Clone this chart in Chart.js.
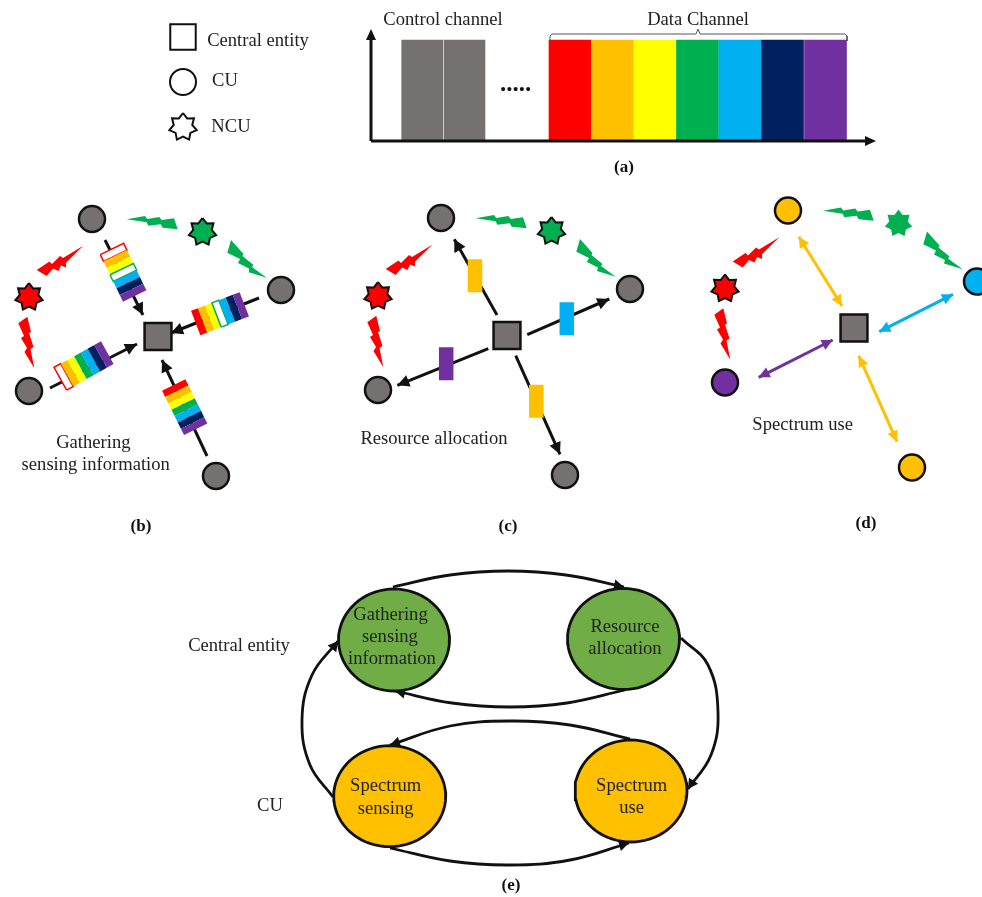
<!DOCTYPE html>
<html>
<head>
<meta charset="utf-8">
<title>Spectrum sharing cycle</title>
<script src="https://cdn.jsdelivr.net/npm/chart.js@4/dist/chart.umd.min.js"></script>
<style>
  html, body { margin: 0; padding: 0; background: #fff; }
  canvas { display: block; }
</style>
</head>
<body>
<canvas id="chartCanvas" width="982" height="897"></canvas>
<script>
// --- Colours ---
const GRAY = '#767171', RED = '#ff0000', ORANGE = '#ffc000', YELLOW = '#ffff00';
const GREEN = '#00b050', BLUE = '#00b0f0', NAVY = '#002060', PURPLE = '#7030a0';
const INK = '#111111';
const LEAF = '#70ad47';

// --- Panel (a): channels ---
const controlCenters = [422.2, 464.5];
const dataCenters = [570, 612.5, 655, 697.5, 740, 782.5, 825.5];
const channelColors = [RED, ORANGE, YELLOW, GREEN, BLUE, NAVY, PURPLE];
const channelTop = 40, channelBottom = 141;
const braceLine = [[550, 41], [550, 36], [552, 34], [696, 34], [698, 29], [700, 34], [845, 34], [847, 36], [847, 41]];

// --- Panels (b)(c)(d): network layout, given for panel (b) ---
const nodeB = [[92, 219], [281, 290], [29, 391], [216, 476]];
const hubB = [158, 336.5];
const starB = [[29, 297], [202.5, 232]];
const panelShiftC = [349, -1];
const panelShiftD = [696, -8.5];
const nodeColorsD = [ORANGE, BLUE, PURPLE, ORANGE];

const boltRedTop = [[36.7, 270], [49.5, 261.5], [52, 264], [60, 256], [63, 258], [83.3, 245.7], [66, 262.7], [66, 267.5], [61, 265.5], [58.5, 271], [53, 268.5], [46.7, 276]];
const boltRedLow = [[18.3, 323.3], [27.3, 316.7], [31, 332], [29, 333], [33.5, 347], [30.5, 349], [34.3, 368.3], [24.5, 352], [27, 348], [21, 338], [24, 336]];
const boltGreenTop = [[126.7, 219.3], [145, 216], [147.3, 219], [159.3, 217], [161.7, 220], [174, 218.3], [177.7, 229.3], [162.7, 227.7], [160.7, 224.3], [148.3, 225.7], [146.7, 222.3]];
const boltGreenRight = [[231, 240], [243.5, 254], [242.5, 256], [253.5, 265], [252, 267], [266.7, 277.7], [248, 272], [249, 268.5], [238, 263], [240, 259], [227.3, 252.7]];

// (b) sensing report arrows and the spectrum strips sitting on them
const arrowsB = [[[105, 240], [143, 315]], [[259, 298], [171, 333]], [[50, 388], [137, 344]], [[207, 456], [162, 360]]];
const stripsB = [[[112, 249], [134.7, 296]], [[195.7, 323], [244.3, 304.3]], [[60.3, 378.7], [107.3, 352.7]], [[173.7, 385], [195.7, 429.3]]];
const stripHollow = [[0, 3], [3], [0], []];

// (c) resource allocation
const arrowsC = [[[497, 315], [454.3, 239.3]], [[527.3, 334.7], [609.3, 299]], [[488.3, 348.7], [397.3, 385.3]], [[515.7, 355.7], [560, 454.3]]];
const allocX = [475, 566.8, 446.2, 536.3];
const allocY = [275.7, 318.8, 363.8, 401.2];
const allocColors = [ORANGE, BLUE, PURPLE, ORANGE];
const allocW = 14.5, allocH = 33;

// (d) spectrum use
const arrowsD = [[[798.7, 236.7], [842, 306]], [[879.3, 331.7], [953, 294.3]], [[758.7, 377.3], [832.7, 340]], [[858.7, 355.7], [897, 441.7]]];
const arrowColorsD = [ORANGE, BLUE, PURPLE, ORANGE];

// --- Panel (e): cycle ---
const cycleX = [394, 623.5, 389.7, 631];
const cycleY = [640, 639, 796.2, 791];
const cycleRx = [55.5, 56, 56, 56];
const cycleRy = [51, 50.5, 50.5, 51];
const cycleColors = [LEAF, LEAF, ORANGE, ORANGE];
const curveGatherToResource = [[393, 587], [450, 575], [508, 571], [566, 575], [624, 587]];
const curveResourceToGather = [[625, 690], [567, 703], [510, 707], [452, 703], [395, 691]];
const curveUseToSensing = [[630, 739], [570, 725], [510, 721], [450, 726], [390, 745]];
const curveSensingToGather = [[333, 797], [310, 765], [302, 720], [312, 675], [338, 641]];
const curveResourceToUse = [[681, 638], [708, 665], [718, 712], [711, 755], [688, 789]];
const curveSensingToUse = [[390, 848], [450, 861], [510, 865], [570, 860], [629, 843]];

// --- Text ---
const serifText = ['Control channel', 'Data Channel', 'Central entity', 'CU', 'NCU',
  'Gathering', 'sensing information', 'Resource allocation', 'Spectrum use',
  'Gathering', 'sensing', 'information', 'Resource', 'allocation', 'Spectrum', 'sensing', 'Spectrum', 'use',
  'Central entity', 'CU'];
const serifX = [443, 698, 258, 225, 231, 93.3, 95.7, 434, 802.7, 390.5, 390, 392, 625, 625, 385.7, 385.7, 631.7, 631.7, 239, 270];
const serifY = [20, 20, 41, 81, 127, 443, 465, 439.5, 425.5, 615, 637, 659, 626.7, 649, 786, 809, 785.7, 808, 646, 806];
const boldText = ['(a)', '(b)', '(c)', '(d)', '(e)'];
const boldX = [624, 141, 508, 866, 511];
const boldY = [168, 527, 527, 524, 886];
const gapDots = '.....';
const gapDotsX = 515.5, gapDotsY = 85;

// --- Dataset builders ---
const toXY = pts => pts.map(p => ({ x: p[0], y: p[1] }));
const shift = (pts, d) => pts.map(p => [p[0] + d[0], p[1] + d[1]]);

function polygon(pts, fillColor, borderColor, borderWidth) {
    return {
        type: 'scatter',
        data: toXY(pts.concat([pts[0]])),
        showLine: true,
        pointRadius: 0,
        fill: 'shape',
        backgroundColor: fillColor,
        borderColor: borderColor || fillColor,
        borderWidth: borderWidth || 0,
        borderJoinStyle: 'miter',
        tension: 0
    };
}

function stroke(pts, color, width, tension) {
    return {
        type: 'scatter',
        data: toXY(pts),
        showLine: true,
        pointRadius: 0,
        fill: false,
        borderColor: color,
        borderWidth: width,
        tension: tension || 0
    };
}

// triangle with its point at tip, pointing away from "from"
function arrowHead(tip, from, color, len, wid) {
    const dx = tip[0] - from[0], dy = tip[1] - from[1];
    const d = Math.hypot(dx, dy);
    const ux = dx / d, uy = dy / d;
    const bx = tip[0] - ux * len, by = tip[1] - uy * len;
    return polygon([tip, [bx - uy * wid, by + ux * wid], [bx + uy * wid, by - ux * wid]], color);
}

function star(c, fillColor, borderColor) {
    const pts = [];
    for (let i = 0; i < 14; i++) {
        const r = i % 2 ? 9.5 : 14;
        const a = -Math.PI / 2 + i * Math.PI / 7;
        pts.push([c[0] + r * Math.cos(a), c[1] + r * Math.sin(a)]);
    }
    return polygon(pts, fillColor, borderColor, borderColor ? 2 : 0);
}

function ellipse(cx, cy, rx, ry, fillColor) {
    const pts = [];
    for (let i = 0; i < 72; i++) {
        const a = i * Math.PI / 36;
        pts.push([cx + rx * Math.cos(a), cy + ry * Math.sin(a)]);
    }
    return polygon(pts, fillColor, INK, 2.8);
}

// seven colour bands across a strip running from a to b
function strip(axis, hollow) {
    const [a, b] = axis;
    const dx = b[0] - a[0], dy = b[1] - a[1];
    const d = Math.hypot(dx, dy);
    const nx = -dy / d * 13, ny = dx / d * 13;
    return channelColors.map((color, i) => {
        const p = [a[0] + dx * i / 7, a[1] + dy * i / 7];
        const q = [a[0] + dx * (i + 1) / 7, a[1] + dy * (i + 1) / 7];
        const corners = [[p[0] + nx, p[1] + ny], [q[0] + nx, q[1] + ny], [q[0] - nx, q[1] - ny], [p[0] - nx, p[1] - ny]];
        return hollow.includes(i) ? polygon(corners, '#ffffff', color, 1.5) : polygon(corners, color);
    });
}

function bolts(d) {
    return [
        polygon(shift(boltRedTop, d), RED),
        polygon(shift(boltRedLow, d), RED),
        polygon(shift(boltGreenTop, d), GREEN),
        polygon(shift(boltGreenRight, d), GREEN)
    ];
}

function points(pts, colors, radius, style, borderWidth) {
    return {
        type: 'scatter',
        data: toXY(pts),
        showLine: false,
        pointRadius: radius,
        pointStyle: style,
        pointBackgroundColor: colors,
        pointBorderColor: INK,
        pointBorderWidth: borderWidth
    };
}

function curveArrow(pts) {
    const n = pts.length;
    return [stroke(pts, INK, 2.8, 0.4), arrowHead(pts[n - 1], pts[n - 2], INK, 10, 5.5)];
}

// --- Assemble datasets ---
const datasets = [];

// (a) bars and axes
datasets.push({
    type: 'bar',
    data: controlCenters.map(x => ({ x: x, y: [channelTop, channelBottom] })),
    backgroundColor: GRAY,
    barThickness: 41,
    grouped: false
});
datasets.push({
    type: 'bar',
    data: dataCenters.map(x => ({ x: x, y: [channelTop, channelBottom] })),
    backgroundColor: channelColors,
    barThickness: 42,
    grouped: false
});
datasets.push(stroke([[371, 141], [371, 38]], INK, 3));
datasets.push(arrowHead([371, 29], [371, 141], INK, 11, 5));
datasets.push(stroke([[371, 141], [866, 141]], INK, 3));
datasets.push(arrowHead([876, 141], [371, 141], INK, 11, 5));
datasets.push(stroke(braceLine, '#555555', 1));

// legend
datasets.push(points([[183, 37]], '#ffffff', 18, 'rect', 2));
datasets.push(points([[183, 82]], '#ffffff', 13, 'circle', 2));
datasets.push(star([183, 127], '#ffffff', INK));

// (b)
bolts([0, 0]).forEach(s => datasets.push(s));
arrowsB.forEach(a => {
    datasets.push(stroke(a, INK, 3));
    datasets.push(arrowHead(a[1], a[0], INK, 12, 6));
});
stripsB.forEach((s, i) => strip(s, stripHollow[i]).forEach(b => datasets.push(b)));
datasets.push(points(nodeB, GRAY, 13, 'circle', 2.5));
datasets.push(points([hubB], GRAY, 19, 'rect', 2.5));
datasets.push(star(starB[0], RED, INK));
datasets.push(star(starB[1], GREEN, INK));

// (c)
bolts(panelShiftC).forEach(s => datasets.push(s));
arrowsC.forEach(a => {
    datasets.push(stroke(a, INK, 3));
    datasets.push(arrowHead(a[1], a[0], INK, 12, 6));
});
allocX.forEach((x, i) => {
    const y = allocY[i];
    datasets.push(polygon([[x - allocW / 2, y - allocH / 2], [x + allocW / 2, y - allocH / 2], [x + allocW / 2, y + allocH / 2], [x - allocW / 2, y + allocH / 2]], allocColors[i]));
});
datasets.push(points(shift(nodeB, panelShiftC), GRAY, 13, 'circle', 2.5));
datasets.push(points(shift([hubB], panelShiftC), GRAY, 19, 'rect', 2.5));
datasets.push(star(shift(starB, panelShiftC)[0], RED, INK));
datasets.push(star(shift(starB, panelShiftC)[1], GREEN, INK));

// (d)
bolts(panelShiftD).forEach(s => datasets.push(s));
arrowsD.forEach((a, i) => {
    datasets.push(stroke(a, arrowColorsD[i], 3));
    datasets.push(arrowHead(a[0], a[1], arrowColorsD[i], 11, 5.5));
    datasets.push(arrowHead(a[1], a[0], arrowColorsD[i], 11, 5.5));
});
datasets.push(points(shift(nodeB, panelShiftD), nodeColorsD, 13, 'circle', 2.5));
datasets.push(points(shift([hubB], panelShiftD), GRAY, 19, 'rect', 2.5));
datasets.push(star(shift(starB, panelShiftD)[0], RED, INK));
datasets.push(star(shift(starB, panelShiftD)[1], GREEN));

// (e)
[curveGatherToResource, curveResourceToGather, curveUseToSensing, curveSensingToGather, curveResourceToUse, curveSensingToUse]
    .forEach(c => curveArrow(c).forEach(s => datasets.push(s)));
cycleX.forEach((x, i) => datasets.push(ellipse(x, cycleY[i], cycleRx[i], cycleRy[i], cycleColors[i])));

// later datasets go on top
datasets.forEach((d, i) => { d.order = -i; d.clip = false; });

// --- Text plugin ---
const textPlugin = {
    id: 'textLabels',
    afterDraw(chart) {
        const { ctx, scales } = chart;
        ctx.save();
        ctx.textAlign = 'center';
        ctx.textBaseline = 'middle';
        ctx.fillStyle = '#222222';
        ctx.font = '18.6px "Liberation Serif"';
        serifText.forEach((t, i) => {
            ctx.fillText(t, scales.x.getPixelForValue(serifX[i]), scales.y.getPixelForValue(serifY[i]));
        });
        ctx.fillStyle = '#111111';
        ctx.font = 'bold 17px "Liberation Serif"';
        boldText.forEach((t, i) => {
            ctx.fillText(t, scales.x.getPixelForValue(boldX[i]), scales.y.getPixelForValue(boldY[i]));
        });
        ctx.font = 'bold 25px "Liberation Serif"';
        ctx.fillText(gapDots, scales.x.getPixelForValue(gapDotsX), scales.y.getPixelForValue(gapDotsY));
        ctx.restore();
    }
};

new Chart(document.getElementById('chartCanvas').getContext('2d'), {
    type: 'scatter',
    data: { datasets: datasets },
    plugins: [textPlugin],
    options: {
        responsive: false,
        animation: false,
        layout: { padding: 0, autoPadding: false },
        scales: {
            x: { type: 'linear', min: 0, max: 982, display: false, offset: false },
            y: { type: 'linear', min: 0, max: 897, reverse: true, display: false }
        },
        plugins: {
            legend: { display: false },
            tooltip: { enabled: false },
            title: { display: false }
        }
    }
});
</script>
</body>
</html>
